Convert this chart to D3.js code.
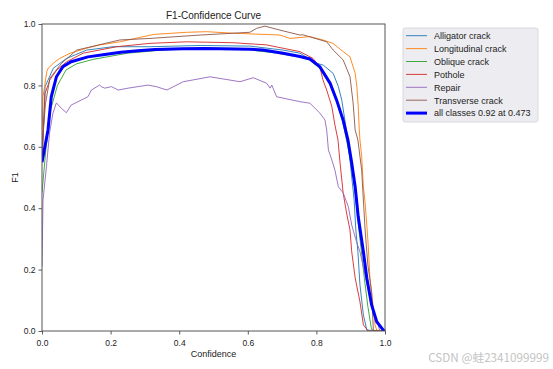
<!DOCTYPE html>
<html>
<head>
<meta charset="utf-8">
<script src="https://cdn.jsdelivr.net/npm/d3@7"></script>
<style>
  body { margin: 0; background: #fff; }
  text { font-family: "Liberation Sans", Arial, sans-serif; fill: #222; }
</style>
</head>
<body>
<svg id="graph" width="553" height="369"></svg>
<script>
// class names + colors (matplotlib tab10)
const classNames = ['Alligator crack', 'Longitudinal crack', 'Oblique crack', 'Pothole', 'Repair', 'Transverse crack']
const classColors = ['#1f77b4', '#ff7f0e', '#2ca02c', '#d62728', '#9467bd', '#8c564b']
const allLabel = 'all classes 0.92 at 0.473'

const xTicks = [0, 0.2, 0.4, 0.6, 0.8, 1.0]
const yTicks = [0, 0.2, 0.4, 0.6, 0.8, 1.0]

// [confidence, f1]
const alligator = [[0,0.55],[0.009,0.796],[0.033,0.856],[0.072,0.888],[0.13,0.915],[0.207,0.926],[0.315,0.926],[0.461,0.93],[0.606,0.928],[0.703,0.915],[0.752,0.905],[0.801,0.872],[0.82,0.866],[0.849,0.839],[0.864,0.796],[0.874,0.752],[0.883,0.687],[0.892,0.622],[0.901,0.524],[0.91,0.427],[0.915,0.329],[0.921,0.258],[0.927,0.15],[0.937,0.052],[0.947,0.003],[1,0]]
const longitudinal = [[0,0.62],[0.003,0.763],[0.014,0.845],[0.018,0.856],[0.038,0.877],[0.052,0.888],[0.082,0.905],[0.13,0.921],[0.169,0.932],[0.227,0.942],[0.325,0.966],[0.422,0.973],[0.48,0.975],[0.557,0.97],[0.694,0.964],[0.723,0.953],[0.781,0.959],[0.819,0.948],[0.848,0.937],[0.878,0.91],[0.898,0.893],[0.913,0.839],[0.918,0.796],[0.922,0.731],[0.925,0.655],[0.927,0.622],[0.932,0.568],[0.937,0.47],[0.942,0.417],[0.947,0.345],[0.951,0.28],[0.956,0.173],[0.964,0.095],[0.971,0.02],[0.976,0.003],[1,0]]
const oblique = [[0,0.45],[0.012,0.6],[0.025,0.72],[0.045,0.8],[0.07,0.85],[0.1,0.87],[0.15,0.885],[0.25,0.905],[0.35,0.915],[0.46,0.922],[0.6,0.92],[0.63,0.912],[0.68,0.906],[0.72,0.898],[0.75,0.893],[0.78,0.883],[0.81,0.855],[0.84,0.8],[0.86,0.745],[0.877,0.68],[0.89,0.61],[0.903,0.53],[0.913,0.455],[0.921,0.36],[0.93,0.27],[0.94,0.17],[0.95,0.08],[0.96,0.01],[0.965,0],[1,0]]
const pothole = [[0,0.55],[0.009,0.774],[0.023,0.818],[0.043,0.85],[0.072,0.877],[0.12,0.905],[0.218,0.926],[0.315,0.937],[0.422,0.942],[0.557,0.939],[0.655,0.932],[0.703,0.921],[0.752,0.91],[0.79,0.888],[0.81,0.861],[0.819,0.818],[0.83,0.785],[0.845,0.731],[0.854,0.671],[0.863,0.622],[0.869,0.547],[0.878,0.45],[0.888,0.384],[0.898,0.329],[0.903,0.258],[0.913,0.173],[0.927,0.095],[0.937,0.02],[0.951,0],[1,0]]
const repair = [[0,0.21],[0.003,0.427],[0.013,0.535],[0.022,0.645],[0.032,0.71],[0.042,0.743],[0.056,0.726],[0.071,0.711],[0.085,0.736],[0.105,0.747],[0.134,0.763],[0.144,0.785],[0.168,0.801],[0.173,0.796],[0.183,0.791],[0.202,0.796],[0.222,0.785],[0.251,0.791],[0.309,0.801],[0.333,0.796],[0.364,0.785],[0.412,0.812],[0.49,0.828],[0.577,0.812],[0.616,0.825],[0.655,0.807],[0.665,0.791],[0.67,0.801],[0.684,0.763],[0.752,0.747],[0.781,0.742],[0.81,0.71],[0.825,0.687],[0.83,0.655],[0.835,0.59],[0.845,0.557],[0.854,0.524],[0.864,0.47],[0.878,0.45],[0.893,0.405],[0.903,0.345],[0.917,0.291],[0.927,0.258],[0.942,0.182],[0.956,0.107],[0.971,0.052],[0.98,0.02],[0.985,0],[1,0]]
const transverse = [[0,0.6],[0.01,0.74],[0.023,0.823],[0.038,0.845],[0.057,0.872],[0.101,0.915],[0.227,0.948],[0.315,0.953],[0.461,0.964],[0.606,0.973],[0.626,0.986],[0.65,0.993],[0.694,0.98],[0.752,0.964],[0.76,0.965],[0.83,0.942],[0.849,0.915],[0.878,0.883],[0.898,0.828],[0.907,0.743],[0.913,0.655],[0.921,0.622],[0.932,0.524],[0.942,0.329],[0.95,0.215],[0.961,0.128],[0.966,0.003],[0.97,0],[1,0]]
const allClasses = [[0,0.55],[0.0175,0.655],[0.027,0.763],[0.042,0.828],[0.061,0.861],[0.085,0.877],[0.134,0.893],[0.183,0.901],[0.23,0.908],[0.28,0.913],[0.329,0.917],[0.41,0.919],[0.473,0.92],[0.606,0.918],[0.644,0.915],[0.703,0.905],[0.752,0.894],[0.781,0.886],[0.81,0.861],[0.84,0.807],[0.859,0.752],[0.878,0.687],[0.892,0.622],[0.903,0.547],[0.913,0.47],[0.922,0.372],[0.937,0.258],[0.947,0.172],[0.961,0.085],[0.976,0.03],[0.995,0.003],[1,0]]

const series = [alligator, longitudinal, oblique, pothole, repair, transverse]

///////////////////////////////////////////////////

const svg = d3.select('#graph')
const plot = {left: 42, right: 385, top: 24, bottom: 331}

const x = d3.scaleLinear().domain([0, 1]).range([plot.left, plot.right])
const y = d3.scaleLinear().domain([0, 1]).range([plot.bottom, plot.top])

svg.append('clipPath').attr('id', 'clip')
  .append('rect')
  .attr('x', plot.left).attr('y', plot.top - 2)
  .attr('width', plot.right - plot.left + 2).attr('height', plot.bottom - plot.top + 2)

const line = d3.line().x(d => x(d[0])).y(d => y(d[1]))

const curves = svg.append('g').attr('clip-path', 'url(#clip)')
curves.selectAll('.cls').data(series).enter().append('path')
  .attr('class', 'cls')
  .attr('d', line)
  .attr('fill', 'none')
  .attr('stroke', (d, i) => classColors[i])
  .attr('stroke-width', 0.9)

curves.append('path')
  .attr('d', line(allClasses))
  .attr('fill', 'none')
  .attr('stroke', '#0000ff')
  .attr('stroke-width', 3)

// axes
const xAxis = d3.axisBottom(x).tickValues(xTicks).tickFormat(d3.format('.1f')).tickSize(3.5).tickSizeOuter(0)
const yAxis = d3.axisLeft(y).tickValues(yTicks).tickFormat(d3.format('.1f')).tickSize(3.5).tickSizeOuter(0)

const gx = svg.append('g').attr('transform', `translate(0,${plot.bottom})`).call(xAxis)
const gy = svg.append('g').attr('transform', `translate(${plot.left},0)`).call(yAxis)
;[gx, gy].forEach(g => {
  g.select('.domain').remove()
  g.selectAll('line').attr('stroke', '#333').attr('stroke-width', 0.8)
  g.selectAll('text').style('font-size', '8.5px').attr('fill', '#222')
})
gx.selectAll('text').attr('dy', '0.95em')

svg.append('rect')
  .attr('x', plot.left).attr('y', plot.top)
  .attr('width', plot.right - plot.left).attr('height', plot.bottom - plot.top)
  .attr('fill', 'none').attr('stroke', '#555').attr('stroke-width', 1)

// labels
svg.append('text').attr('x', (plot.left + plot.right) / 2).attr('y', 18.5)
  .attr('text-anchor', 'middle').style('font-size', '10px').text('F1-Confidence Curve')
svg.append('text').attr('x', (plot.left + plot.right) / 2).attr('y', 357)
  .attr('text-anchor', 'middle').style('font-size', '9px').text('Confidence')
svg.append('text').attr('transform', `translate(18,${(plot.top + plot.bottom) / 2}) rotate(-90)`)
  .attr('text-anchor', 'middle').style('font-size', '9px').text('F1')

// legend
const legend = svg.append('g')
legend.append('rect')
  .attr('x', 403).attr('y', 28).attr('width', 135).attr('height', 94).attr('rx', 2)
  .attr('fill', '#ededf1').attr('stroke', '#d0d0d8').attr('stroke-width', 0.8)

const entries = classNames.map((n, i) => ({name: n, color: classColors[i], w: 0.9}))
entries.push({name: allLabel, color: '#0000ff', w: 3})

const rows = legend.selectAll('.row').data(entries).enter().append('g')
  .attr('class', 'row')
  .attr('transform', (d, i) => `translate(0,${35.7 + i * 12.9})`)
rows.append('line').attr('x1', 406).attr('x2', 427)
  .attr('stroke', d => d.color).attr('stroke-width', d => d.w)
rows.append('text').attr('x', 434).attr('y', 3.3)
  .style('font-size', '9px').attr('fill', '#333').text(d => d.name)

// watermark
svg.append('text').attr('x', 549).attr('y', 361.5).attr('text-anchor', 'end')
  .style('font-family', '"Noto Sans CJK SC", "Noto Sans", sans-serif')
  .style('font-size', '11.7px').style('fill', '#c4c4c4').text('CSDN @蛙2341099999')
</script>
</body>
</html>
